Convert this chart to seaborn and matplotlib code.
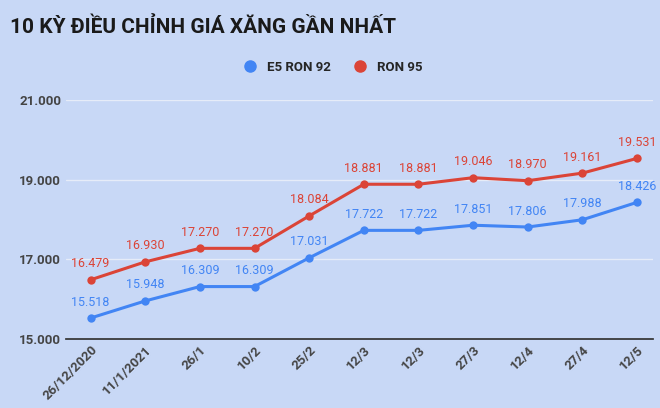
import matplotlib
matplotlib.use("Agg")
import matplotlib.pyplot as plt
import seaborn as sns
import pandas as pd

dates = ["26/12/2020","11/1/2021","26/1","10/2","25/2","12/3","12/3","27/3","12/4","27/4","12/5"]
e5 = [15518,15948,16309,16309,17031,17722,17722,17851,17806,17988,18426]
ron95 = [16479,16930,17270,17270,18084,18881,18881,19046,18970,19161,19531]

bg = "#c8d8f6"
sns.set_theme(style="white")
plt.rcParams['font.family'] = ['Roboto', 'DejaVu Sans']
fig, ax = plt.subplots(figsize=(6.6, 4.08), dpi=100)
fig.patch.set_facecolor(bg); ax.set_facecolor(bg)
x = list(range(len(dates)))
df = pd.DataFrame({"x": x*2, "v": e5+ron95, "s": ["E5 RON 92"]*len(x)+["RON 95"]*len(x)})
sns.lineplot(data=df, x="x", y="v", hue="s", palette=["#4285f4", "#db4437"], marker="o",
             markersize=6, markeredgewidth=0, linewidth=2.2, ax=ax, legend=False)
fmt = lambda v: f"{v:,}".replace(",", ".")
for xi, a, b in zip(x, e5, ron95):
    ax.annotate(fmt(a), (xi, a), xytext=(0, 9), textcoords="offset points", ha="center", fontsize=9, color="#4285f4")
    ax.annotate(fmt(b), (xi, b), xytext=(0, 9), textcoords="offset points", ha="center", fontsize=9, color="#db4437")
ax.set_ylim(15000, 21000); ax.set_yticks([15000, 17000, 19000, 21000])
ax.set_yticklabels([fmt(t) for t in [15000, 17000, 19000, 21000]], fontsize=9.5, fontweight="bold", color="#444")
ax.set_xlim(-0.45, 10.3)
ax.set_xticks(x); ax.set_xticklabels(dates, rotation=45, ha="right", rotation_mode="anchor", fontsize=9.5, fontweight="bold", color="#444")
ax.grid(axis="y", color="#e6ecf8", linewidth=1)
for s in ax.spines.values(): s.set_visible(False)
ax.spines["bottom"].set_visible(True); ax.spines["bottom"].set_color("#333")
ax.set_xlabel(""); ax.set_ylabel("")
ax.tick_params(length=0)
fig.text(0.015, 0.92, "10 KỲ ĐIỀU CHỈNH GIÁ XĂNG GẦN NHẤT", fontsize=15, fontweight="bold", color="#1a1a1a")
from matplotlib.lines import Line2D
h = [Line2D([], [], marker="o", color="#4285f4", ls="", markersize=8), Line2D([], [], marker="o", color="#db4437", ls="", markersize=8)]
fig.legend(h, ["E5 RON 92", "RON 95"], loc="center", bbox_to_anchor=(0.5, 0.835), ncol=2, frameon=False,
           prop={"weight": "bold", "size": 9.5}, handletextpad=0.3, columnspacing=1.2)
fig.subplots_adjust(left=0.1, right=0.99, top=0.755, bottom=0.17)
fig.savefig("out.png", dpi=100, facecolor=bg)
